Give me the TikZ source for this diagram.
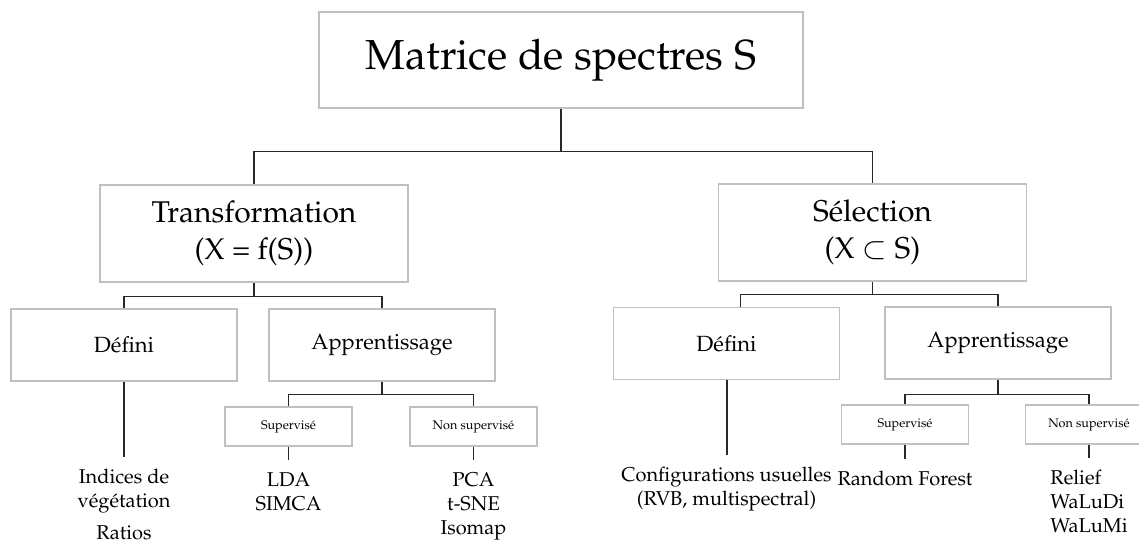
\documentclass[tikz,border=0pt]{standalone}
\usepackage[T1]{fontenc}
\usepackage{mathpazo}
\usepackage{tikz}
\definecolor{boxgray}{RGB}{192,192,192}
\definecolor{linkgray}{RGB}{40,40,40}

\begin{document}
\begin{tikzpicture}[
  x=0.5pt,y=-0.5pt,
  every node/.style={align=center,inner sep=0pt},
  root/.style={draw=boxgray,line width=0.75pt,minimum width=242pt,minimum height=48pt,font=\fontsize{21}{25}\selectfont},
  branch/.style={draw=boxgray,line width=0.75pt,minimum width=154pt,minimum height=48.5pt,font=\fontsize{15}{18.5}\selectfont},
  family/.style={draw=boxgray,line width=0.75pt,minimum width=113pt,minimum height=36pt,font=\fontsize{11}{13}\selectfont},
  subfamily/.style={draw=boxgray,line width=0.75pt,minimum width=63.5pt,minimum height=19.5pt,font=\fontsize{6.3}{7.5}\selectfont},
  leaf/.style={anchor=north,font=\fontsize{10}{12}\selectfont},
  link/.style={draw=linkgray,line width=0.6pt},
  leaflink/.style={link,shorten >=6pt},
  deflink/.style={leaflink,line width=1pt}
]
\useasboundingbox (0,0) rectangle (1139,542);
% boxes
\node[root] (spectra) at (561,60) {Matrice de spectres S};
\node[branch] (trans) at (254,233.5) {Transformation\\(X = f(S))};
\node[branch] (sel) at (872.5,232.5) {S\'election\\(X $\subset$ S)};
\node[family] (transdef) at (124,345) {D\'efini};
\node[family] (translearn) at (382,345) {Apprentissage};
\node[family] (seldef) at (726.5,343.5) {D\'efini};
\node[family] (sellearn) at (998,343) {Apprentissage};
\node[subfamily] (transsup) at (288.5,426.5) {Supervis\'e};
\node[subfamily] (transunsup) at (473.5,426.5) {Non supervis\'e};
\node[subfamily] (selsup) at (905,424.5) {Supervis\'e};
\node[subfamily] (selunsup) at (1089,424.5) {Non supervis\'e};
% methods
\node[leaf] (indices) at (124,469) {Indices de\\v\'eg\'etation\\[4pt]Ratios};
\node[leaf] (lda) at (288.5,472) {LDA\\SIMCA};
\node[leaf] (pca) at (473.5,472) {PCA\\t-SNE\\Isomap};
\node[leaf] (config) at (726.5,467) {Configurations usuelles\\(RVB, multispectral)};
\node[leaf] (forest) at (905,471) {Random Forest};
\node[leaf,align=left] (relief) at (1089,470) {Relief\\WaLuDi\\WaLuMi};
% tree
\draw[link] (spectra.south) -- ++(0,43) coordinate (spectrabus);
\draw[link] (trans.north) |- (spectrabus) -| (sel.north);
\draw[link] (trans.south) -- ++(0,14) coordinate (transbus);
\draw[link] (transdef.north) |- (transbus) -| (translearn.north);
\draw[link] (sel.south) -- ++(0,13) coordinate (selbus);
\draw[link] ([xshift=7pt]seldef.north) |- (selbus) -| (sellearn.north);
\draw[link] (translearn.south) -- ++(0,13) coordinate (translearnbus);
\draw[link] (transsup.north) |- (translearnbus) -| (transunsup.north);
\draw[link] (sellearn.south) -- ++(0,15) coordinate (sellearnbus);
\draw[link] (selsup.north) |- (sellearnbus) -| (selunsup.north);
% leaves
\draw[deflink] (transdef.south) -- (indices.north);
\draw[deflink] (seldef.south) -- (config.north);
\draw[leaflink] (transsup.south) -- (lda.north);
\draw[leaflink] (transunsup.south) -- (pca.north);
\draw[leaflink] (selsup.south) -- (forest.north);
\draw[leaflink] (selunsup.south) -- (relief.north);
\end{tikzpicture}
\end{document}
